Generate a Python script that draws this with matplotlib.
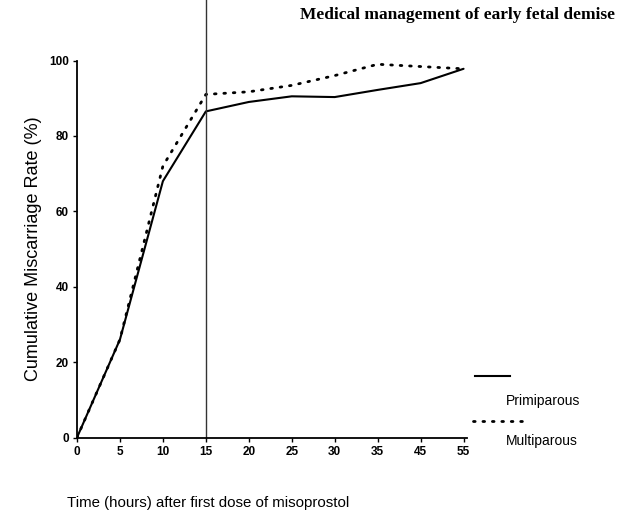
import matplotlib
matplotlib.use('Agg')
import matplotlib.pyplot as plt
from matplotlib.lines import Line2D

plt.rcParams['font.family'] = ['Liberation Sans', 'DejaVu Sans']

# tick labels as printed in the figure (equally spaced)
x_labels = ['0', '5', '10', '15', '20', '25', '30', '35', '45', '55']
primiparous = [0, 26, 68, 86.5, 89, 90.5, 90.3, 92.2, 94, 97.8]
multiparous = [0, 26, 72, 91, 91.7, 93.4, 96, 99, 98.4, 97.8]
y_ticks = [0, 20, 40, 60, 80, 100]
first_dose_window = '15'

W, H = 619, 518
fig = plt.figure(figsize=(W / 100, H / 100), dpi=100)
ax = fig.add_axes([77 / W, 1 - 437.5 / H, 390 / W, 377 / H])

pos = list(range(len(x_labels)))
ax.plot(pos, primiparous, color='black', linewidth=1.5, solid_capstyle='round')
ax.plot(pos, multiparous, color='black', linewidth=2.0,
        linestyle=(0, (0.6, 2.8)), dash_capstyle='round')

vx = x_labels.index(first_dose_window)
ax.axvline(vx, ymin=0, ymax=1.16, color='#333333', linewidth=1.0, clip_on=False)

ax.set_xlim(0, 9.08)
ax.set_ylim(0, 100)
ax.set_xticks(pos)
ax.set_xticklabels(x_labels)
ax.set_yticks(y_ticks)
ax.tick_params(axis='both', direction='out', length=3, width=1.0,
               labelsize=8.5, pad=3)
for lbl in ax.get_xticklabels() + ax.get_yticklabels():
    lbl.set_fontweight('bold')
for side in ['top', 'right']:
    ax.spines[side].set_visible(False)
for side in ['left', 'bottom']:
    ax.spines[side].set_linewidth(1.3)

ax.set_ylabel('Cumulative Miscarriage Rate (%)', fontsize=13, labelpad=5)

fig.text(67 / W, 1 - 503 / H, 'Time (hours) after first dose of misoprostol',
         fontsize=10.8, ha='left', va='center')

fig.text(300 / W, 1 - 15 / H, 'Medical management of early fetal demise',
         fontsize=12.5, ha='left', va='center', fontweight='bold',
         family=['Liberation Serif', 'DejaVu Serif'])

# legend, drawn the way it appears in the original
fig.add_artist(Line2D([475 / W, 510 / W], [1 - 376 / H, 1 - 376 / H],
                      color='black', linewidth=1.5))
fig.text(506 / W, 1 - 401 / H, 'Primiparous', fontsize=10, ha='left', va='center')
fig.add_artist(Line2D([473 / W, 523 / W], [1 - 421 / H, 1 - 421 / H],
                      color='black', linewidth=2.0, linestyle=(0, (0.6, 2.8)),
                      dash_capstyle='round'))
fig.text(506 / W, 1 - 441 / H, 'Multiparous', fontsize=10, ha='left', va='center')

fig.savefig('out.png', dpi=100)
